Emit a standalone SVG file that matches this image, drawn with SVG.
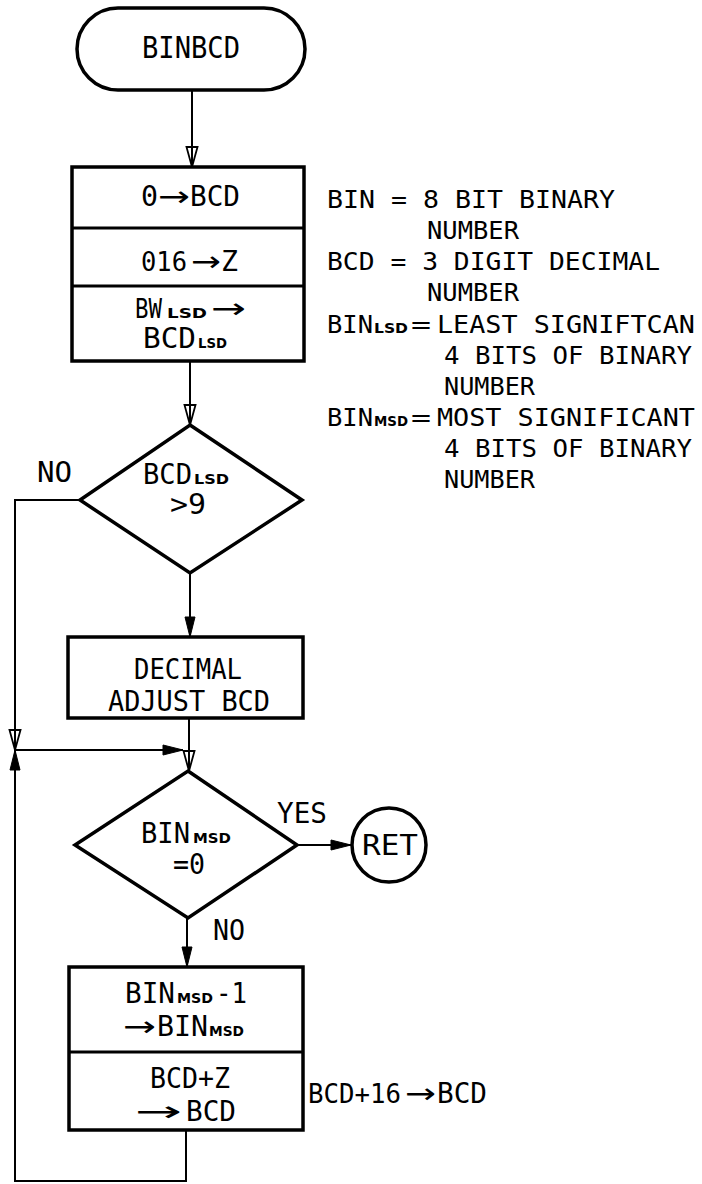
<svg xmlns="http://www.w3.org/2000/svg" width="702" height="1184" viewBox="0 0 702 1184">
<style>
.ln{stroke:#000;stroke-width:2;fill:none}
.bx{stroke:#000;stroke-width:3.5;fill:#fff}
.t{font-family:"DejaVu Sans Mono",monospace;font-size:28px;fill:#000}
.l{font-family:"DejaVu Sans Mono",monospace;font-size:25px;fill:#000}
.s{font-family:"DejaVu Sans","Liberation Sans",sans-serif;font-weight:bold;font-size:14px}
.a{font-family:"DejaVu Sans",sans-serif;font-size:28px}
</style>
<defs>
<marker id="mo" markerUnits="userSpaceOnUse" markerWidth="22" markerHeight="14" viewBox="0 0 22 14" refX="21" refY="7" orient="auto">
<path d="M1,1.5 L21,7 L1,12.5 Z" fill="none" stroke="#000" stroke-width="1.8"/>
</marker>
<marker id="mf" markerUnits="userSpaceOnUse" markerWidth="22" markerHeight="14" viewBox="0 0 22 14" refX="21" refY="7" orient="auto">
<path d="M1,2 L21,7 L1,12 Z" fill="#000" stroke="#000" stroke-width="1"/>
</marker>
</defs>
<rect width="702" height="1184" fill="#fff"/>

<g id="connectors">
<path class="ln" d="M192,90 V167" marker-end="url(#mo)"/>
<path class="ln" d="M190,361 V425" marker-end="url(#mo)"/>
<path class="ln" d="M80,500 H15 V750" marker-end="url(#mo)"/>
<path class="ln" d="M190,573 V637" marker-end="url(#mf)"/>
<path class="ln" d="M189,718 V771" marker-end="url(#mo)"/>
<path class="ln" d="M15,750 H183" marker-end="url(#mf)"/>
<path class="ln" d="M297,845 H351" marker-end="url(#mf)"/>
<path class="ln" d="M187,918 V967" marker-end="url(#mf)"/>
<path class="ln" d="M186,1130 V1181 H15 V750" marker-end="url(#mf)"/>
<text class="t" x="37" y="482" textLength="35" lengthAdjust="spacingAndGlyphs">NO</text>
<text class="t" x="277" y="823" textLength="50" lengthAdjust="spacingAndGlyphs">YES</text>
<text class="t" x="213" y="940" textLength="32" lengthAdjust="spacingAndGlyphs">NO</text>
</g>

<g id="start">
<rect class="bx" x="77" y="8" width="228" height="82" rx="41"/>
<text class="t" x="142" y="58" style="font-size:30px" textLength="98" lengthAdjust="spacingAndGlyphs">BINBCD</text>
</g>

<g id="init">
<rect class="bx" x="72" y="167" width="232" height="194"/>
<path class="ln" style="stroke-width:3" d="M72,228 H304 M72,286 H304"/>
<text class="t" y="206"><tspan x="141" textLength="17" lengthAdjust="spacingAndGlyphs">0</tspan><tspan class="a" x="158" textLength="32" lengthAdjust="spacingAndGlyphs">→</tspan><tspan x="190" textLength="50" lengthAdjust="spacingAndGlyphs">BCD</tspan></text>
<text class="t" y="271"><tspan x="141" style="font-size:27px" textLength="46" lengthAdjust="spacingAndGlyphs">016</tspan><tspan class="a" x="191" textLength="30" lengthAdjust="spacingAndGlyphs">→</tspan><tspan x="221" textLength="17" lengthAdjust="spacingAndGlyphs">Z</tspan></text>
<text class="t" y="318"><tspan x="135" style="font-size:26px" textLength="27" lengthAdjust="spacingAndGlyphs">BW</tspan><tspan class="s" x="167" textLength="40" lengthAdjust="spacingAndGlyphs">LSD</tspan><tspan class="a" x="211" textLength="35" lengthAdjust="spacingAndGlyphs">→</tspan></text>
<text class="t" y="348"><tspan x="143" textLength="53" lengthAdjust="spacingAndGlyphs">BCD</tspan><tspan class="s" x="198" textLength="29" lengthAdjust="spacingAndGlyphs">LSD</tspan></text>
</g>

<g id="test-lsd">
<polygon class="bx" points="190,425 302,500 190,573 80,500"/>
<text class="t" y="484"><tspan x="143" textLength="49" lengthAdjust="spacingAndGlyphs">BCD</tspan><tspan class="s" x="194" textLength="35" lengthAdjust="spacingAndGlyphs">LSD</tspan></text>
<text class="t" x="170" y="514" textLength="36" lengthAdjust="spacingAndGlyphs">&gt;9</text>
</g>

<g id="adjust">
<rect class="bx" x="68" y="637" width="235" height="81"/>
<text class="t" x="134" y="679" textLength="108" lengthAdjust="spacingAndGlyphs">DECIMAL</text>
<text class="t" x="108" y="711" textLength="162" lengthAdjust="spacingAndGlyphs">ADJUST BCD</text>
</g>

<g id="test-msd">
<polygon class="bx" points="188,771 297,845 188,918 75,845"/>
<text class="t" y="843"><tspan x="141" textLength="49" lengthAdjust="spacingAndGlyphs">BIN</tspan><tspan class="s" x="193" textLength="38" lengthAdjust="spacingAndGlyphs">MSD</tspan></text>
<text class="t" x="173" y="874" textLength="32" lengthAdjust="spacingAndGlyphs">=0</text>
</g>

<g id="ret">
<circle class="bx" cx="389" cy="845" r="37"/>
<text class="t" x="362" y="855" textLength="56" lengthAdjust="spacingAndGlyphs">RET</text>
</g>

<g id="update">
<rect class="bx" x="69" y="967" width="234" height="163"/>
<path class="ln" style="stroke-width:3" d="M69,1052 H303"/>
<text class="t" y="1003"><tspan x="125" textLength="50" lengthAdjust="spacingAndGlyphs">BIN</tspan><tspan class="s" x="177" textLength="36" lengthAdjust="spacingAndGlyphs">MSD</tspan><tspan x="216" textLength="31" lengthAdjust="spacingAndGlyphs">-1</tspan></text>
<text class="t" y="1036"><tspan class="a" x="123" textLength="33" lengthAdjust="spacingAndGlyphs">→</tspan><tspan x="157" textLength="51" lengthAdjust="spacingAndGlyphs">BIN</tspan><tspan class="s" x="209" textLength="35" lengthAdjust="spacingAndGlyphs">MSD</tspan></text>
<text class="t" x="150" y="1088" textLength="80" lengthAdjust="spacingAndGlyphs">BCD+Z</text>
<text class="t" y="1121"><tspan class="a" x="135" textLength="47" lengthAdjust="spacingAndGlyphs">→</tspan><tspan x="186" textLength="50" lengthAdjust="spacingAndGlyphs">BCD</tspan></text>
</g>

<g id="note-bcd16">
<text class="t" y="1103"><tspan x="308" style="font-size:26px" textLength="93" lengthAdjust="spacingAndGlyphs">BCD+16</tspan><tspan class="a" x="405" textLength="31" lengthAdjust="spacingAndGlyphs">→</tspan><tspan x="437" textLength="50" lengthAdjust="spacingAndGlyphs">BCD</tspan></text>
</g>

<g id="legend">
<text class="l" x="327" y="208" textLength="288" lengthAdjust="spacingAndGlyphs">BIN = 8 BIT BINARY</text>
<text class="l" x="427" y="239" textLength="92" lengthAdjust="spacingAndGlyphs">NUMBER</text>
<text class="l" x="327" y="270" textLength="333" lengthAdjust="spacingAndGlyphs">BCD = 3 DIGIT DECIMAL</text>
<text class="l" x="427" y="301" textLength="92" lengthAdjust="spacingAndGlyphs">NUMBER</text>
<text class="l" y="333"><tspan x="327" textLength="46" lengthAdjust="spacingAndGlyphs">BIN</tspan><tspan class="s" x="374" textLength="34" lengthAdjust="spacingAndGlyphs">LSD</tspan><tspan x="411" textLength="20" lengthAdjust="spacingAndGlyphs">=</tspan><tspan x="437" textLength="258" lengthAdjust="spacingAndGlyphs">LEAST SIGNIFTCAN</tspan></text>
<text class="l" x="444" y="364" textLength="248" lengthAdjust="spacingAndGlyphs">4 BITS OF BINARY</text>
<text class="l" x="444" y="395" textLength="91" lengthAdjust="spacingAndGlyphs">NUMBER</text>
<text class="l" y="426"><tspan x="327" textLength="46" lengthAdjust="spacingAndGlyphs">BIN</tspan><tspan class="s" x="374" textLength="34" lengthAdjust="spacingAndGlyphs">MSD</tspan><tspan x="411" textLength="20" lengthAdjust="spacingAndGlyphs">=</tspan><tspan x="437" textLength="258" lengthAdjust="spacingAndGlyphs">MOST SIGNIFICANT</tspan></text>
<text class="l" x="444" y="457" textLength="248" lengthAdjust="spacingAndGlyphs">4 BITS OF BINARY</text>
<text class="l" x="444" y="488" textLength="91" lengthAdjust="spacingAndGlyphs">NUMBER</text>
</g>
</svg>
